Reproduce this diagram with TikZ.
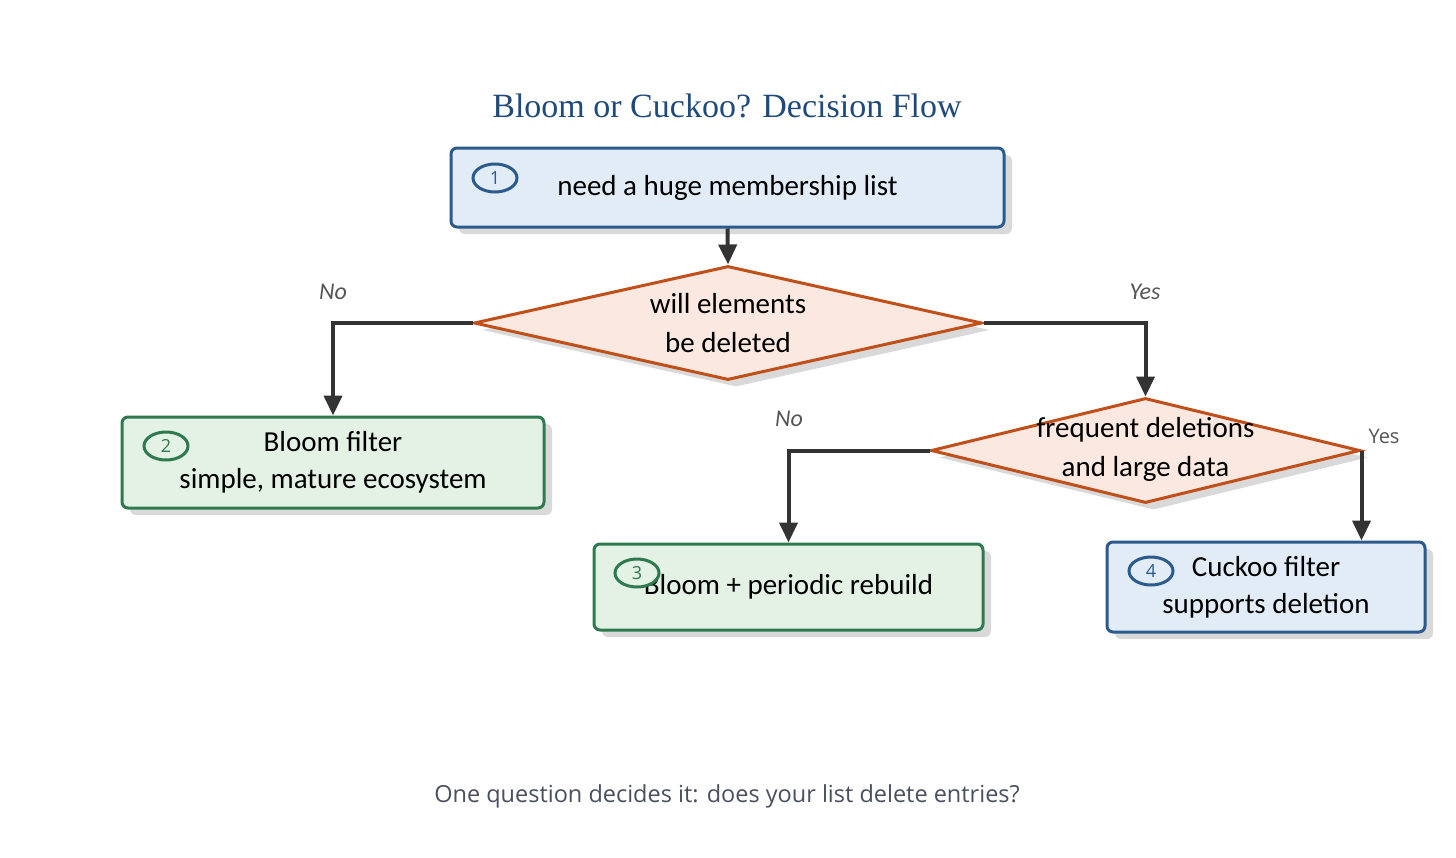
\documentclass[tikz,border=0pt]{standalone}
\usepackage{fontspec}
\setmainfont{Carlito}
\newfontfamily\titlefont{Liberation Serif}
\newfontfamily\footfont{Open Sans}
\definecolor{bordeazul}{HTML}{2B5A8C}
\definecolor{fondoazul}{HTML}{E2ECF7}
\definecolor{bordeverde}{HTML}{2E7A4E}
\definecolor{fondoverde}{HTML}{E4F1E5}
\definecolor{bordenaranja}{HTML}{C04F1A}
\definecolor{fondonaranja}{HTML}{FBE8E0}
\definecolor{flechagris}{HTML}{333333}
\definecolor{etiqgris}{HTML}{555555}
\definecolor{titulo}{HTML}{1F4A7A}
\definecolor{pie}{HTML}{4A5060}
\usetikzlibrary{arrows.meta, shapes.geometric, shadows}

\begin{document}
\begin{tikzpicture}[x=1pt, y=-1pt,
	sombra/.style={drop shadow={shadow xshift=8pt, shadow yshift=-7pt, fill=black!15, opacity=1}},
	caja/.style={draw, rounded corners=6pt, line width=3pt, align=center, sombra,
		font=\fontsize{29}{37}\selectfont},
	azul/.style={caja, draw=bordeazul, fill=fondoazul},
	verde/.style={caja, draw=bordeverde, fill=fondoverde},
	rombo/.style={diamond, draw=bordenaranja, fill=fondonaranja, line width=3pt, inner sep=0pt, sombra},
	rtexto/.style={align=center, font=\fontsize{29}{39}\selectfont},
	num/.style={ellipse, line width=3pt, minimum width=44pt, minimum height=28pt, inner sep=0pt,
		font=\footfont\fontsize{18}{18}\selectfont},
	flecha/.style={-{Triangle[length=20pt, width=18pt]}, line width=4pt, draw=flechagris},
	etiq/.style={text=etiqgris, font=\itshape\fontsize{24}{24}\selectfont}]
	\path[fill=white] (0,0) rectangle (1456,857);
	\useasboundingbox (0,0) rectangle (1456,857);
	% titulo
	\node[text=titulo, font=\titlefont\fontsize{34}{34}\selectfont] (titulo) at (727,106) {Bloom or Cuckoo? Decision Flow};
	% cajas y rombos
	\node[azul, minimum width=553pt, minimum height=79pt] (b1) at (727.5,187.5) {need a huge membership list};
	\node[rombo, minimum width=508pt, minimum height=114pt] (d1) at (728,323) {};
	\node[rtexto] (t1) at (d1) {will elements\\be deleted};
	\node[verde, minimum width=422pt, minimum height=91pt] (b2) at (333,462.5) {Bloom filter\\simple, mature ecosystem};
	\node[rombo, minimum width=429pt, minimum height=105pt] (d2) at (1145.5,450.5) {};
	\node[rtexto, yshift=1.5pt] (t2) at (d2) {frequent deletions\\and large data};
	\node[verde, minimum width=389pt, minimum height=86pt] (b3) at (788.5,587) {Bloom + periodic rebuild};
	\node[azul, minimum width=318pt, minimum height=90pt] (b4) at (1266,587) {Cuckoo filter\\supports deletion};
	% numeros
	\node[num, draw=bordeazul, fill=fondoazul, text=bordeazul] (n1) at (495,178) {1};
	\node[num, draw=bordeverde, fill=fondoverde, text=bordeverde] (n2) at (166,446) {2};
	\node[num, draw=bordeverde, fill=fondoverde, text=bordeverde] (n3) at (637,573) {3};
	\node[num, draw=bordeazul, fill=fondoazul, text=bordeazul] (n4) at (1151,571) {4};
	% flechas
	\draw[flecha] (b1.south) -- (d1.north);
	\draw[flecha] (d1.west) -| (b2.north);
	\draw[flecha] (d1.east) -| (d2.north);
	\draw[flecha] (d2.west) -| (b3.north);
	\draw[flecha] (d2.east) -- (d2.east |- b4.north);
	% etiquetas
	\node[etiq] (no1) at (333,292) {No};
	\node[etiq] (si1) at (1145,292) {Yes};
	\node[etiq] (no2) at (789,419) {No};
	\node[text=etiqgris, font=\footfont\fontsize{20}{20}\selectfont] (si2) at (1384,436) {Yes};
	% pie
	\node[text=pie, font=\footfont\fontsize{23.5}{23.5}\selectfont] (pie) at (727,796) {One question decides it: does your list delete entries?};
\end{tikzpicture}
\end{document}
